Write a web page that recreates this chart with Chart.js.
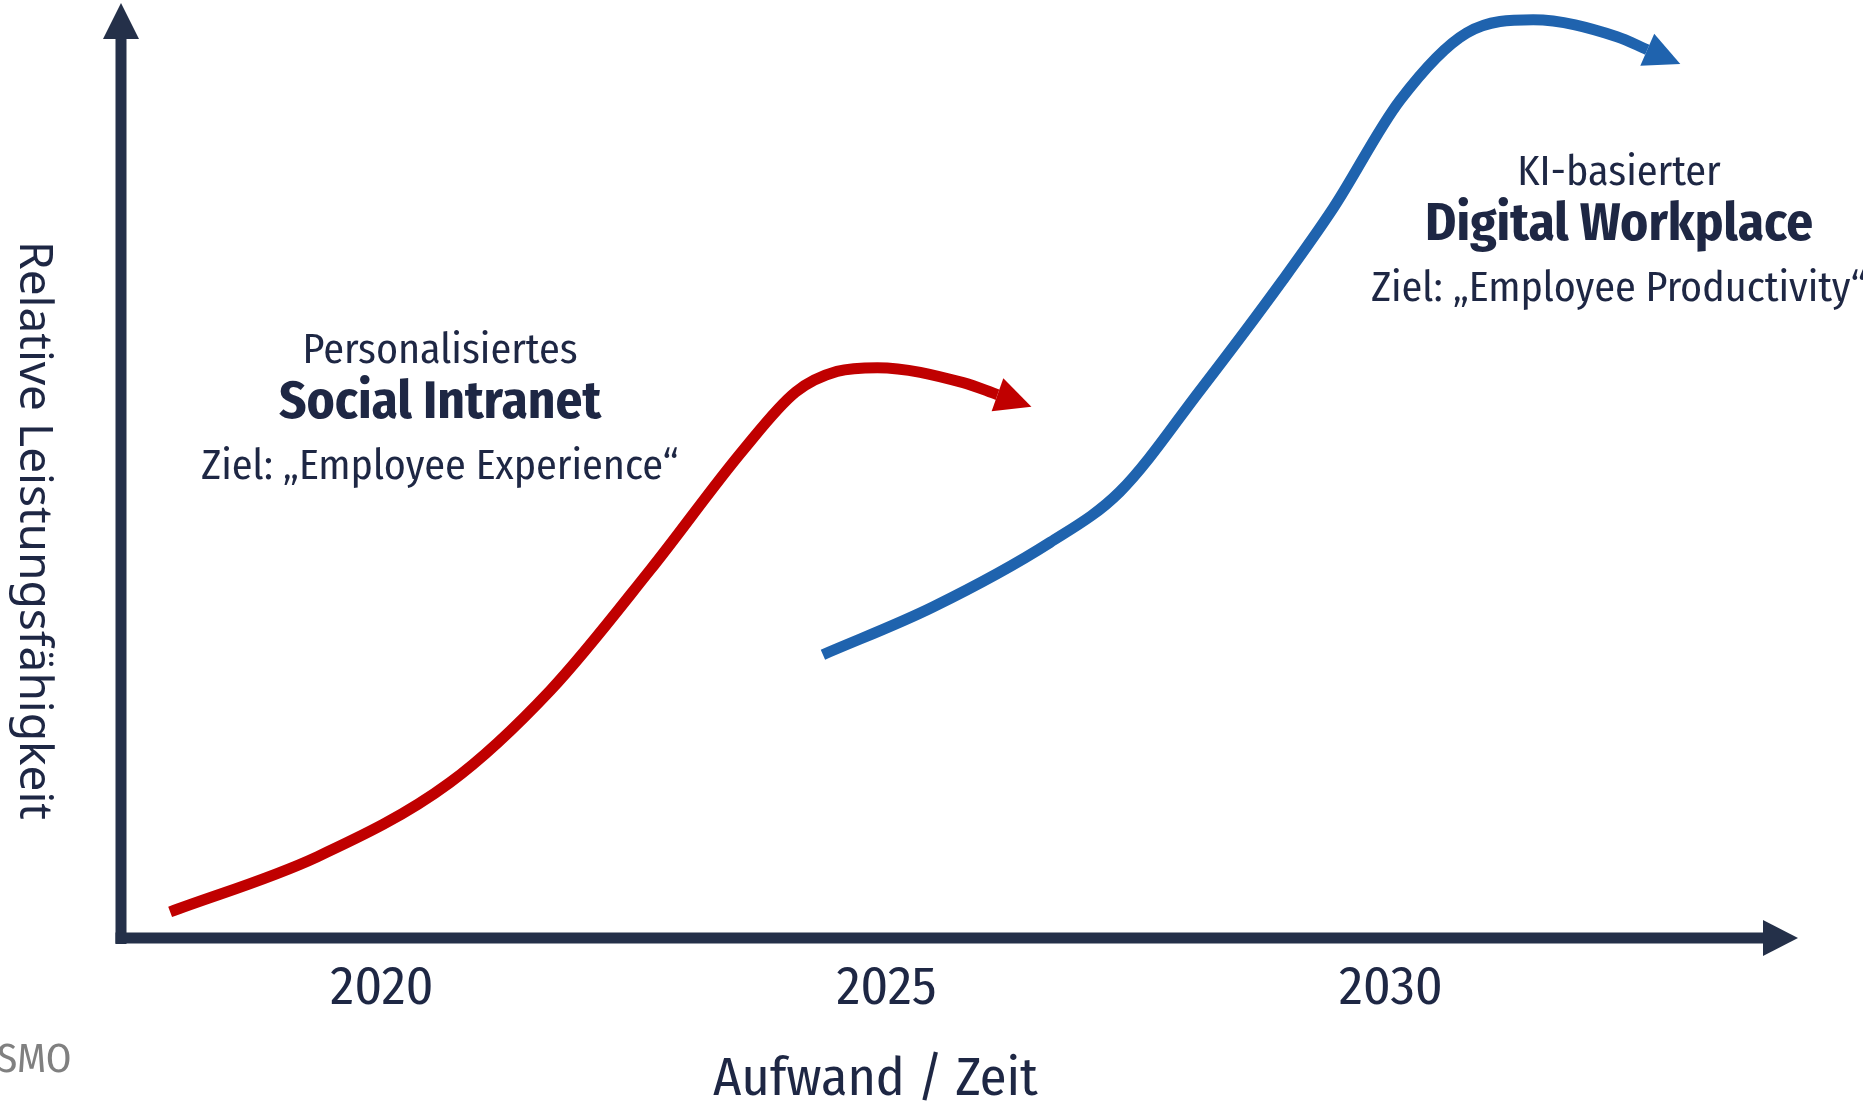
<!DOCTYPE html>
<html><head><meta charset="utf-8">
<script src="https://cdn.jsdelivr.net/npm/chart.js@4/dist/chart.umd.min.js"></script>
<style>html,body{margin:0;padding:0;background:#fff;overflow:hidden}#wrap{width:1863px;height:1102px;position:relative}</style>
</head><body><div id="wrap"><canvas id="c" width="1863" height="1102"></canvas></div>
<script>
// ---- data ----
const tickYears = [2020, 2025, 2030];
const socialYears  = [2017.90, 2019.36, 2020.67, 2021.67, 2022.66, 2023.58, 2024.10, 2024.51, 2024.91, 2025.76, 2026.10];
const socialValues = [2.8, 8.7, 16.6, 26.5, 39.4, 52.2, 58.4, 60.6, 61.0, 59.4, 58.1];
const workplaceYears  = [2024.37, 2025.46, 2026.62, 2027.31, 2028.11, 2028.93, 2029.43, 2030.09, 2030.75, 2031.41, 2032.24, 2032.54];
const workplaceValues = [30.3, 35.4, 42.3, 47.7, 58.6, 70.4, 78.1, 89.6, 96.8, 98.2, 96.4, 95.0];
const xAxisTitle = 'Aufwand / Zeit';
const yAxisTitle = 'Relative Leistungsfähigkeit';
const socialLabel = ['Personalisiertes', 'Social Intranet', 'Ziel: \u201EEmployee Experience\u201C'];
const workplaceLabel = ['KI-basierter', 'Digital Workplace', 'Ziel: \u201EEmployee Productivity\u201C'];
const sourceNote = 'SMO';

// ---- styles ----
const NAVY = '#243049';
const TEXT = '#1e2744';
const RED = '#c00000';
const BLUE = '#1f63ae';
const COND = "'Liberation Sans Narrow', 'Fira Sans Condensed', 'Roboto Condensed', Roboto, sans-serif";
const SANS = "'Noto Sans', 'Open Sans', sans-serif";

const toPts = (xs, ys) => xs.map((x, i) => ({x, y: ys[i]}));

const arrowPlugin = {
  id: 'arrows',
  afterDatasetsDraw(chart) {
    const ctx = chart.ctx;
    const a = chart.chartArea;
    ctx.save();
    // axes
    ctx.strokeStyle = NAVY; ctx.fillStyle = NAVY; ctx.lineWidth = 11; ctx.lineCap = 'butt';
    ctx.beginPath(); ctx.moveTo(a.left, a.bottom + 6); ctx.lineTo(a.left, a.top + 34); ctx.stroke();
    ctx.beginPath(); ctx.moveTo(a.left, a.top); ctx.lineTo(a.left - 18, a.top + 36); ctx.lineTo(a.left + 18, a.top + 36); ctx.closePath(); ctx.fill();
    ctx.beginPath(); ctx.moveTo(a.left - 5.5, a.bottom); ctx.lineTo(a.right - 33, a.bottom); ctx.stroke();
    ctx.beginPath(); ctx.moveTo(a.right, a.bottom); ctx.lineTo(a.right - 35, a.bottom - 18); ctx.lineTo(a.right - 35, a.bottom + 18); ctx.closePath(); ctx.fill();
    // arrowheads at the end of each curve
    chart.data.datasets.forEach((ds, i) => {
      const pts = chart.getDatasetMeta(i).data;
      const p = pts[pts.length - 1], q = pts[pts.length - 2];
      let dx = p.x - p.cp1x, dy = p.y - p.cp1y;
      if (!isFinite(dx) || Math.hypot(dx, dy) < 0.5) { dx = p.x - q.x; dy = p.y - q.y; }
      const L = Math.hypot(dx, dy) || 1; dx /= L; dy /= L;
      const nx = -dy, ny = dx;
      ctx.fillStyle = ds.borderColor;
      ctx.beginPath();
      ctx.moveTo(p.x + dx * 36, p.y + dy * 36);
      ctx.lineTo(p.x + nx * 17.5, p.y + ny * 17.5);
      ctx.lineTo(p.x - nx * 17.5, p.y - ny * 17.5);
      ctx.closePath(); ctx.fill();
    });
    // x title, centred under the 2025 region as in the original
    ctx.fillStyle = TEXT;
    ctx.font = '54px ' + COND;
    ctx.textAlign = 'center'; ctx.textBaseline = 'middle';
    ctx.fillText(xAxisTitle, chart.scales.x.getPixelForValue(2024.89), 1080);
    // rotated y title
    ctx.font = '46px ' + SANS;
    ctx.translate(33, (a.top + a.bottom) / 2 + 60);
    ctx.rotate(Math.PI / 2);
    ctx.fillText(yAxisTitle, 0, 0);
    ctx.restore();
    // source note
    ctx.save();
    ctx.fillStyle = '#808080'; ctx.font = '41px ' + COND;
    ctx.textAlign = 'left'; ctx.textBaseline = 'middle';
    ctx.fillText(sourceNote, -3, 1061);
    ctx.restore();
  }
};

const labelPlugin = {
  id: 'blockLabels',
  afterDatasetsDraw(chart, args, opts) {
    const ctx = chart.ctx;
    const xs = chart.scales.x, ys = chart.scales.y;
    ctx.save();
    ctx.fillStyle = TEXT; ctx.textAlign = 'center'; ctx.textBaseline = 'middle';
    opts.blocks.forEach(b => {
      const cx = xs.getPixelForValue(b.x), cy = ys.getPixelForValue(b.y);
      b.lines.forEach((t, k) => {
        const st = opts.lineStyles[k];
        ctx.font = st.weight + ' ' + st.size + 'px ' + COND;
        ctx.fillText(t, cx, cy + st.dy);
      });
    });
    ctx.restore();
  }
};

new Chart(document.getElementById('c'), {
  type: 'line',
  data: {
    datasets: [
      {label: 'Social Intranet', data: toPts(socialYears, socialValues), borderColor: RED, borderWidth: 11, cubicInterpolationMode: 'monotone', pointRadius: 0, fill: false, borderCapStyle: 'butt'},
      {label: 'Digital Workplace', data: toPts(workplaceYears, workplaceValues), borderColor: BLUE, borderWidth: 11, cubicInterpolationMode: 'monotone', pointRadius: 0, fill: false, borderCapStyle: 'butt'}
    ]
  },
  options: {
    responsive: false, animation: false, devicePixelRatio: 1,
    layout: {padding: {left: 121, right: 65, top: 3, bottom: 0}},
    plugins: {
      legend: {display: false}, tooltip: {enabled: false},
      blockLabels: {
        blocks: [
          {x: 2020.575, y: 57.2, lines: socialLabel},
          {x: 2032.26, y: 76.2, lines: workplaceLabel}
        ],
        lineStyles: [
          {weight: 'normal', size: 42, dy: -52},
          {weight: 'bold', size: 53, dy: 0},
          {weight: 'normal', size: 42, dy: 64}
        ]
      }
    },
    scales: {
      x: {
        type: 'linear', min: 2017.413, max: 2034.034,
        afterBuildTicks: s => { s.ticks = tickYears.map(v => ({value: v})); },
        afterFit: s => { s.height = 164; },
        grid: {display: false}, border: {display: false},
        ticks: {font: {size: 54, family: COND}, color: TEXT, padding: 11, callback: v => String(v), autoSkip: false, maxRotation: 0},
        title: {display: false, text: xAxisTitle}
      },
      y: {type: 'linear', min: 0, max: 100, display: false}
    }
  },
  plugins: [arrowPlugin, labelPlugin]
});
</script></body></html>
